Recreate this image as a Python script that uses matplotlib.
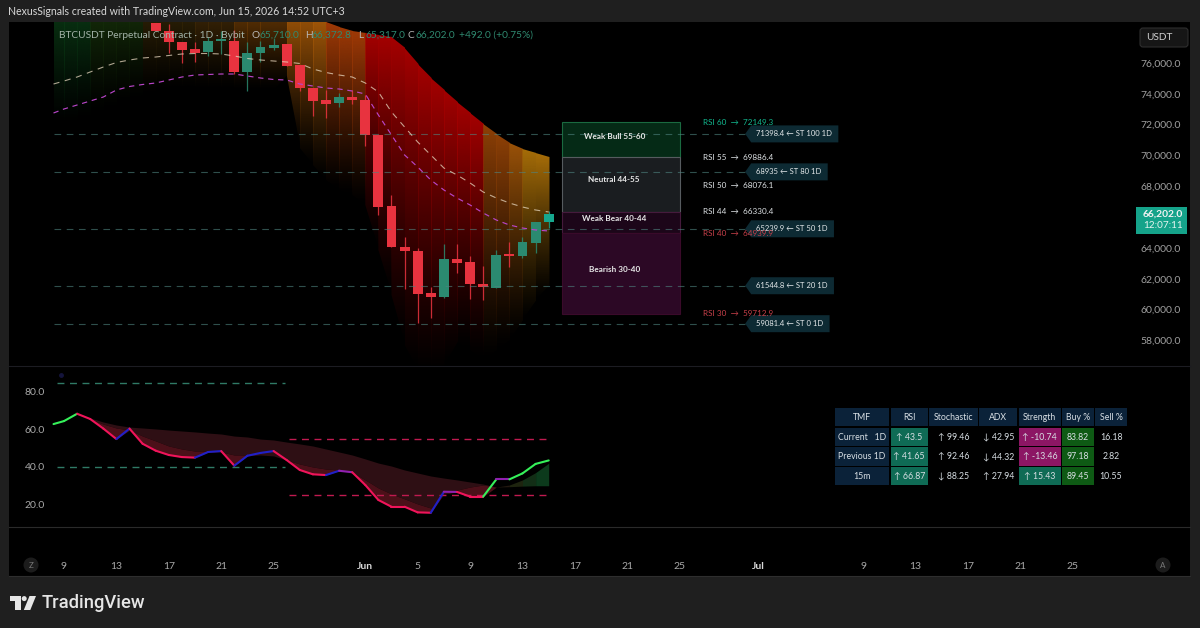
import numpy as np
import matplotlib
matplotlib.use("Agg")
import matplotlib.pyplot as plt
from matplotlib.colors import to_rgb
from matplotlib.patches import Polygon, Rectangle, FancyBboxPatch, Circle

plt.rcParams['font.family'] = ['Lato', 'DejaVu Sans']

# --- price pane data, one value per day counted from May 9 ---
candle_days = list(range(7, 38))
opens = [78596, 78077, 77363, 76909, 76714, 77428, 77428, 75416, 76617, 76974, 77233, 75870, 74377, 73599, 73372, 73793,
         73599, 71327, 66740, 64078, 63818, 61073, 60833, 63299, 63085, 61676, 61417, 63605, 63474, 64338, 65710]
closes = [78077, 77363, 76844, 76681, 77428, 77558, 75416, 76649, 77006, 77200, 75805, 74377, 73534, 73339, 73793, 73599,
          71327, 66674, 64058, 63799, 61009, 60833, 63299, 63020, 61657, 61462, 63559, 63474, 64383, 65661, 66202]
highs = [78596, 78531, 77363, 77363, 77687, 78077, 78142, 77363, 77428, 77622, 77233, 75870, 74377, 74248, 74053, 74248,
         73923, 71327, 67433, 64727, 63994, 61482, 64253, 64253, 63474, 62845, 63864, 64383, 64727, 65661, 66372.8]
lows = [78077, 76649, 76000, 76065, 76454, 76584, 75286, 74183, 76065, 76844, 75805, 74183, 72560, 72430, 73144, 73339,
        70613, 66135, 64058, 61333, 59126, 59451, 60749, 62391, 60684, 60619, 61417, 62780, 63345, 63669, 65317]

line_days = [-0.8] + list(range(0, 38))
fast_ma = [74637, 74832, 75091, 75416, 75740, 76032, 76195, 76325, 76389, 76487, 76584, 76617, 76617, 76584, 76454, 76292,
           76195, 76130, 76065, 75968, 75611, 75384, 75221, 75091, 74702, 74118, 72820, 71846, 70873, 70029, 69186, 68731,
           68212, 67628, 67239, 66914, 66654, 66460, 66330]
slow_ma = [72755, 73015, 73274, 73534, 73793, 74248, 74475, 74605, 74702, 74897, 75091, 75221, 75254, 75286, 75286, 75156,
           75027, 74929, 74897, 74637, 74507, 74377, 74313, 74183, 73988, 72625, 71327, 70029, 69250, 68407, 67758, 67239,
           66784, 66265, 65811, 65486, 65291, 65162, 65097]
band_upper = [79800] * 20 + [79180, 78661, 78337, 78077, 77947, 77817, 77687, 76974, 75935, 75027, 74248, 73469, 72755,
                             72041, 71392, 70808, 70419, 70159, 69899]
band_lower = [71976, 71976, 72301, 72625, 72950, 73274, 73599, 73923, 74118, 74248, 74248, 74248, 74248, 74248, 74248,
              74248, 74248, 74248, 75221, 70484, 69380, 68407, 67758, 67433, 66784, 63864, 60943, 57698, 56076, 55751,
              56400, 57893, 57374, 56725, 57374, 58023, 59321, 60619, 61592]
band_colors = ['#0a3814'] * 3 + ['#16300a'] * 4 + ['#332506'] * 4 + ['#422a07'] * 3 + ['#6a3a05'] * 4 + ['#a85a08'] * 3 \
    + ['#a03a06'] * 3 + ['#a50000'] * 9 + ['#8e4006'] * 2 + ['#9a5208'] + ['#a86e08'] * 2

st_levels = [71398.4, 68935, 65239.9, 61544.8, 59081.4]
st_names = ['ST 100 1D', 'ST 80 1D', 'ST 50 1D', 'ST 20 1D', 'ST 0 1D']
st_text = ['71398.4', '68935', '65239.9', '61544.8', '59081.4']

rsi_names = ['RSI 60', 'RSI 55', 'RSI 50', 'RSI 44', 'RSI 40', 'RSI 30']
rsi_prices = [72149.3, 69886.4, 68076.1, 66330.4, 64939.9, 59712.9]
rsi_colors = ['#12b88f', '#dfe3e6', '#dfe3e6', '#dfe3e6', '#c8404a', '#c8404a']

zone_names = ['Weak Bull 55-60', 'Neutral 44-55', 'Weak Bear 40-44', 'Bearish 30-40']
zone_tops = [72149.3, 69886.4, 66330.4, 64939.9]
zone_bottoms = [69886.4, 66330.4, 64939.9, 59712.9]
zone_label_y = [71262, 68407, 65895, 62611]
zone_fill = ['#052a16', '#1a1d20', '#1c0619', '#2c0825']
zone_edge = ['#1a6a40', '#565b5f', '#451a3c', '#3a0a2a']

price_ticks = [58000, 60000, 62000, 64000, 68000, 70000, 72000, 74000, 76000]

# --- oscillator pane data ---
rsi_line = [62.9, 64.5, 68.4, 65.6, 60.5, 54.9, 60.5, 52.4, 48.7, 46.4, 45.3, 45.0, 48.0, 48.5, 40.7, 46.0, 47.5, 48.5, 43.7,
            38.4, 36.1, 35.7, 38.0, 37.2, 30.4, 22.4, 18.8, 18.8, 15.8, 15.6, 26.8, 26.7, 24.2, 24.2, 33.4, 33.4, 36.6, 41.65, 43.5]
rsi_segments = ['g', 'g', 'r', 'r', 'r', 'b', 'r', 'r', 'r', 'r', 'r', 'b', 'b', 'r', 'b', 'b', 'b', 'r', 'r', 'r', 'r', 'b', 'p',
                'r', 'r', 'r', 'r', 'r', 'r', 'b', 'p', 'r', 'r', 'g', 'p', 'g', 'g', 'g']
segment_colors = {'g': '#35f05a', 'r': '#f0145a', 'b': '#2020c8', 'p': '#9020b0'}

cloud_days = list(range(1, 34))
cloud_top = [68.3, 66.1, 64, 62.4, 61.3, 60.8, 60.3, 59.7, 59.2, 58.7, 58.1, 57.6, 56.5, 56, 54.9, 54.4, 53.3, 52.3, 51.2, 49.6,
             48, 46.4, 44.3, 42.1, 40.5, 38.4, 36.8, 35.2, 34.1, 33.1, 32, 30.9, 29.3]
cloud_mid = [68.3, 65.6, 62.9, 60.8, 59.7, 56.5, 53.9, 51.2, 49.6, 48.5, 48.5, 48, 46.4, 46.4, 46.4, 45.9, 43.7, 41.6, 40, 38.9,
             38.4, 37.3, 33.1, 28.8, 25.6, 23, 20.3, 18.1, 25.6, 27.7, 29.3, 30.4, 29.3]
bull_days = [33, 34, 35, 36, 37]
bull_top = [29.3, 30.4, 33.1, 37, 42]
bull_bottom = [29.3, 29.5, 29.8, 30, 30]
bull_colors = ['#221810', '#1e240f', '#122e16', '#0c3a1c']

osc_ticks = [20, 40, 60, 80]

# --- time axis ---
time_ticks = [0, 4, 8, 12, 16, 23, 27, 31, 35, 39, 43, 47, 53, 61, 65, 69, 73, 77]
time_labels = ['9', '13', '17', '21', '25', 'Jun', '5', '9', '13', '17', '21', '25', 'Jul', '9', '13', '17', '21', '25']

# --- summary table ---
table_header = ['TMF', 'RSI', 'Stochastic', 'ADX', 'Strength', 'Buy %', 'Sell %']
table_rows = [['Current   1D', '↑ 43.5', '↑ 99.46', '↓ 42.95', '↑ -10.74', '83.82', '16.18'],
              ['Previous 1D', '↑ 41.65', '↑ 92.46', '↓ 44.32', '↑ -13.46', '97.18', '2.82'],
              ['15m', '↑ 66.87', '↓ 88.25', '↑ 27.94', '↑ 15.43', '89.45', '10.55']]
table_fill = [['#0b2239', '#0f6b55', '#000000', '#000000', '#8c1664', '#0e5a14', '#000000'],
              ['#0b2239', '#0f6b55', '#000000', '#000000', '#8c1664', '#0e5a14', '#000000'],
              ['#0b2239', '#0f6b55', '#000000', '#000000', '#0f6b55', '#0e5a14', '#000000']]
col_edges = [(834.7, 889), (890.7, 927.7), (929, 978), (979.3, 1017.3), (1019, 1060.7), (1062.3, 1094), (1095.3, 1126.7)]
row_edges = [(407.7, 426.3), (427.7, 446.3), (447.3, 466), (467.3, 485)]

W, H = 1200, 628
BG = '#1f1f1f'
fig = plt.figure(figsize=(W / 100, H / 100), dpi=100, facecolor=BG)


def pane(left, top, right, bottom, **kw):
    return fig.add_axes([left / W, 1 - bottom / H, (right - left) / W, (bottom - top) / H], **kw)


def full_layer(z):
    a = pane(0, 0, W, H, zorder=z)
    a.set_xlim(0, W)
    a.set_ylim(H, 0)
    a.axis('off')
    a.patch.set_alpha(0)
    return a


back = full_layer(0)
back.add_patch(Rectangle((9, 22), 1181, 554, fc='black', ec='none'))
back.plot([9, 1190], [526.5, 526.5], color='#2a2a2a', lw=0.8)
back.plot([9, 1190], [576, 576], color='#2e2e2e', lw=0.8)
back.plot([9, 1190], [365.5, 365.5], color='#1c1c22', lw=0.8)

# price pane
ax = pane(9, 22, 1137, 365.5, zorder=1)
ax.set_facecolor('none')
ax.set_xlim((9 - 64) / 13.1, (1137 - 64) / 13.1)
ax.set_ylim(76000 + (63 - 365.5) * 64.9, 76000 + (63 - 22) * 64.9)
ax.set_autoscale_on(False)

# each column fades downward; columns overlap a little so no seam shows between them
overlap = 0.06
for i, c in enumerate(band_colors):
    x0, x1 = line_days[i], line_days[i + 1]
    up0, up1 = band_upper[i], band_upper[i + 1]
    lo0, lo1 = band_lower[i], band_lower[i + 1]
    hi, lo = max(up0, up1), min(lo0, lo1)
    grad = np.zeros((256, 1, 4))
    grad[:, :, :3] = to_rgb(c)
    grad[:, 0, 3] = (1 - np.linspace(0, 1, 256)) ** 1.2
    im = ax.imshow(grad, extent=[x0, x1 + overlap, lo, hi], aspect='auto', zorder=1, interpolation='bilinear')
    im.set_clip_path(Polygon([(x0, up0), (x1 + overlap, up1), (x1 + overlap, lo1), (x0, lo0)], transform=ax.transData))

for level in st_levels:
    ax.plot([line_days[0], 52], [level, level], color='#4f8480', lw=0.8, dashes=(6, 5), zorder=4, alpha=0.6)

for top_price, bottom_price, fill, edge in zip(zone_tops, zone_bottoms, zone_fill, zone_edge):
    ax.add_patch(Rectangle((38, bottom_price), 9, top_price - bottom_price, fc=fill, ec=edge, lw=0.8, zorder=2))
for name, y in zip(zone_names, zone_label_y):
    ax.text(42, y, name, color='#e8e8e8', fontsize=5.9, ha='center', va='center', zorder=6, fontweight='bold')

# candles
for day, o, c, h, l in zip(candle_days, opens, closes, highs, lows):
    col = '#e8333f' if c < o else '#2b8a70'
    if day == 37:
        col = '#16a88e'
    ax.vlines(day, l, h, color=col, lw=0.9, zorder=3, alpha=0.85)
    ax.bar(day, abs(c - o), bottom=min(o, c), width=0.76, color=col, zorder=3, linewidth=0)

ax.plot(line_days, fast_ma, color='#e8d8c0', lw=0.8, dashes=(5.5, 5), zorder=5, alpha=0.75)
ax.plot(line_days, slow_ma, color='#b845c8', lw=0.85, dashes=(4.5, 4), zorder=5)

for name, price, col in zip(rsi_names, rsi_prices, rsi_colors):
    ax.text(48.75, price, f'{name}  →  {price}', color=col, fontsize=5.9, va='center', zorder=9)

fig.canvas.draw()
renderer = fig.canvas.get_renderer()
px_day = 1 / 13.1
px_price = 64.9
for level, txt, name in zip(st_levels, st_text, st_names):
    t = ax.text(52.85, level, f'{txt} ← {name}', color='#e4e8ea', fontsize=5.5, va='center', zorder=8)
    ext = t.get_window_extent(renderer)
    end = ax.transData.inverted().transform((ext.x1, ext.y0))[0] + 6 * px_day
    h = 8.5 * px_price
    tip = 52
    ax.add_patch(Polygon([(tip, level), (tip + 6 * px_day, level + h), (end, level + h), (end, level - h),
                          (tip + 6 * px_day, level - h)], fc='#0d2a33', ec='none', zorder=7))

ax.yaxis.tick_right()
ax.set_yticks(price_ticks)
ax.set_yticklabels([f'{v:,.1f}' for v in price_ticks], color='#a0a0a0', fontsize=7.5)
ax.tick_params(axis='y', length=0, pad=2.5)
ax.set_xticks([])
for s in ax.spines.values():
    s.set_visible(False)

# oscillator pane
osc = pane(9, 366, 1137, 526.5, zorder=1)
osc.set_facecolor('none')
osc.fill_between(cloud_days, cloud_top, cloud_mid, color='#2e0f14', lw=0, zorder=1)
osc.fill_between(cloud_days, cloud_mid, np.minimum(rsi_line[2:35], cloud_mid), color='#4c1019', lw=0, zorder=1)
for i, c in enumerate(bull_colors):
    osc.fill_between(bull_days[i:i + 2], bull_top[i:i + 2], bull_bottom[i:i + 2], color=c, lw=0, zorder=1)

osc.plot([-0.5, 16.9], [85, 85], color='#2f7a66', lw=1.0, dashes=(5, 4))
osc.plot([-0.5, 16.9], [40, 40], color='#2f7a66', lw=1.0, dashes=(5, 4))
osc.plot([17.2, 37], [55, 55], color='#c01a50', lw=1.0, dashes=(5, 4))
osc.plot([17.2, 37], [25, 25], color='#c01a50', lw=1.0, dashes=(5, 4))
osc.plot([-0.25], [89], 'o', color='#14143c', ms=2.5)

for i, key in enumerate(rsi_segments):
    osc.plot(line_days[i:i + 2], rsi_line[i:i + 2], color=segment_colors[key], lw=1.5, solid_capstyle='round', zorder=3)

osc.set_xlim((9 - 64) / 13.1, (1137 - 64) / 13.1)
osc.set_ylim(80 - (526.5 - 392) / 1.875, 80 - (366 - 392) / 1.875)
osc.set_yticks(osc_ticks)
osc.set_yticklabels([f'{v:.1f}' for v in osc_ticks], color='#a8a8a8', fontsize=7.5)
osc.tick_params(axis='y', length=0, pad=-26)
osc.set_xticks(time_ticks)
osc.set_xticklabels(time_labels, color='#a8a8a8', fontsize=7.5)
osc.tick_params(axis='x', length=0, pad=25.5)
for lab in osc.get_xticklabels():
    if lab.get_text() in ('Jun', 'Jul'):
        lab.set_fontweight('bold')
        lab.set_color('#d8d8d8')
for s in osc.spines.values():
    s.set_visible(False)

# everything that sits on top of the panes, in figure pixels
top = full_layer(5)
top.text(8, 11.5, 'NexusSignals created with TradingView.com, Jun 15, 2026 14:52 UTC+3', color='#d8d8d8',
         fontsize=7.6, va='center')

top.text(59, 35, 'BTCUSDT Perpetual Contract · 1D · Bybit', color='#a3b3a8', fontsize=7.3, va='center')
for x, txt, col in [(252, 'O', '#b8b8b8'), (259, '65,710.0', '#2f8a70'), (305, 'H', '#b8b8b8'), (312, '66,372.8', '#2f8a70'),
                    (358, 'L', '#b8b8b8'), (365, '65,317.0', '#2f8a70'), (408, 'C', '#b8b8b8'), (415, '66,202.0', '#2f8a70'),
                    (459, '+492.0 (+0.75%)', '#2f8a70')]:
    top.text(x, 35, txt, color=col, fontsize=7.3, va='center')

top.add_patch(FancyBboxPatch((1140, 28), 48, 19, boxstyle='round,pad=0,rounding_size=3', fc='#161616', ec='#2e2e2e', lw=0.8))
top.text(1146, 37.5, 'USDT', color='#d0d0d0', fontsize=7.2, va='center')
top.add_patch(Rectangle((1136, 207), 51, 27, fc='#15a38a', ec='none'))
top.text(1183, 214, '66,202.0', color='#f2f2f2', fontsize=7.4, va='center', ha='right', fontweight='bold')
top.text(1183, 226, '12:07:11', color='#e4f4f0', fontsize=7.2, va='center', ha='right')

for cx, letter in [(31, 'Z'), (1163, 'A')]:
    top.add_patch(Circle((cx, 565), 7.5, fc='#1c1c1c', ec='none'))
    top.text(cx, 565, letter, color='#7a7a7a', fontsize=5.8, ha='center', va='center')

for row, (y0, y1) in enumerate(row_edges):
    for col, (x0, x1) in enumerate(col_edges):
        fill = '#0b2239' if row == 0 else table_fill[row - 1][col]
        txt = table_header[col] if row == 0 else table_rows[row - 1][col]
        top.add_patch(Rectangle((x0, y0), x1 - x0, y1 - y0, fc=fill, ec='none'))
        top.text((x0 + x1) / 2, (y0 + y1) / 2, txt, color='#d8dfe4', fontsize=6.3, ha='center', va='center')

# TradingView mark
top.add_patch(Polygon([(10, 596), (21, 596), (21, 610), (15, 610), (15, 600.5), (10, 600.5)], fc='#e6e6e6', ec='none'))
top.add_patch(Circle((24.2, 598.6), 2.5, fc='#e6e6e6', ec='none'))
top.add_patch(Polygon([(29.5, 596), (36, 596), (30.3, 610), (23.8, 610)], fc='#e6e6e6', ec='none'))
top.text(42, 603, 'TradingView', color='#e6e6e6', fontsize=13.2, va='center', family=['Roboto', 'DejaVu Sans'], fontweight='medium')

fig.savefig('out.png', dpi=100, facecolor=BG)
